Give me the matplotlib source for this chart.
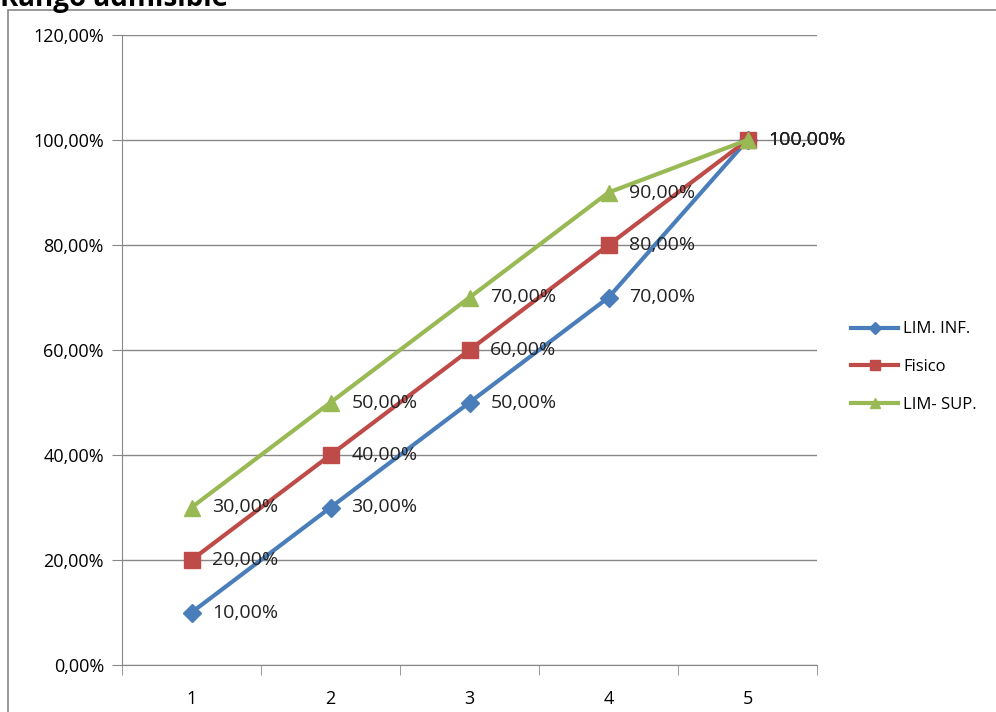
import matplotlib.pyplot as plt
from matplotlib.patches import Rectangle
from matplotlib.ticker import FuncFormatter, MultipleLocator

plt.rcParams['font.family'] = ['Open Sans', 'DejaVu Sans']

categories = [1, 2, 3, 4, 5]
lim_inf = [10, 30, 50, 70, 100]
fisico = [20, 40, 60, 80, 100]
lim_sup = [30, 50, 70, 90, 100]
series_names = ['LIM. INF.', 'Fisico', 'LIM- SUP.']

def pct(v, pos=None):
    return ('%.2f%%' % v).replace('.', ',')

fig = plt.figure(figsize=(9.96, 7.12), dpi=100)
ax = fig.add_axes([122/996, 1-665/712, 695/996, 630/712])

colors = ['#4A7EBB', '#BE4B48', '#98B954']
markers = ['D', 's', '^']
msizes = [9, 11, 12]
for vals, name, c, m, ms in zip([lim_inf, fisico, lim_sup], series_names, colors, markers, msizes):
    ax.plot(categories, vals, color=c, lw=3, marker=m, markersize=ms, label=name, zorder=3)
    for x, y in zip(categories, vals):
        ax.annotate(pct(y), (x, y), xytext=(15, 0), textcoords='offset points',
                    va='center', ha='left', fontsize=14, color='#222222', zorder=4)

ax.set_xlim(0.5, 5.5)
ax.set_ylim(0, 120)
ax.yaxis.set_major_locator(MultipleLocator(20))
ax.yaxis.set_major_formatter(FuncFormatter(pct))
ax.set_xticks(categories)
ax.set_xticks([0.5, 1.5, 2.5, 3.5, 4.5, 5.5], minor=True)
ax.tick_params(axis='x', which='major', length=0, labelsize=13, pad=18)
ax.tick_params(axis='x', which='minor', length=7, color='#888888')
ax.tick_params(axis='y', length=7, color='#888888', labelsize=13, pad=6)
ax.grid(axis='y', color='#888888', lw=1)
ax.set_axisbelow(True)
for s in ['top', 'right']:
    ax.spines[s].set_visible(False)
for s in ['left', 'bottom']:
    ax.spines[s].set_color('#888888')

ax.legend(loc='center left', bbox_to_anchor=(1.028, 0.473), frameon=False,
          fontsize=12, handlelength=2.8, labelspacing=1.3, handletextpad=0.3,
          markerscale=0.65)

# outer chart border
fig.patches.append(Rectangle((8/996, -0.05), 1.1, 1 - 10/712 + 0.05,
                             transform=fig.transFigure, fill=False,
                             edgecolor='#888888', lw=1.2))
fig.text(0.0, 1 - 6/712, 'Rango admisible', fontsize=20, fontweight='bold',
         va='baseline', ha='left')

fig.savefig('out.png', dpi=100)
